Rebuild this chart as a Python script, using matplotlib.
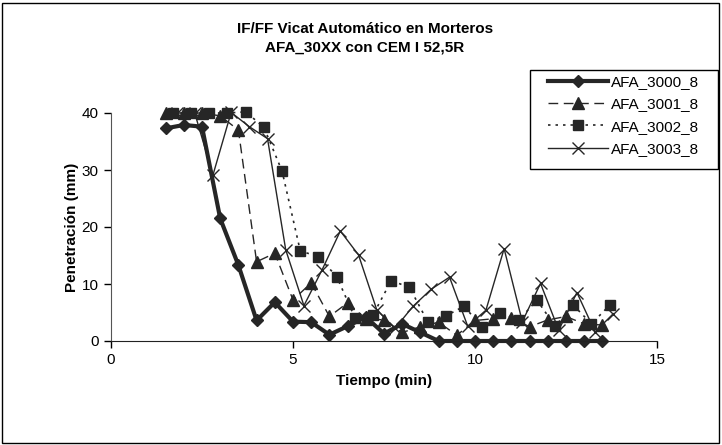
import matplotlib
matplotlib.use('Agg')
import matplotlib.pyplot as plt
from matplotlib.patches import Rectangle

plt.rcParams['font.family'] = ['Liberation Sans', 'DejaVu Sans']

# tiempo (min) y penetracion (mm) por serie
t_3000 = [1.5, 2.0, 2.5, 3.0, 3.5, 4.0, 4.5, 5.0, 5.5, 6.0, 6.5, 7.0, 7.5, 8.0, 8.5,
          9.0, 9.5, 10.0, 10.5, 11.0, 11.5, 12.0, 12.5, 13.0, 13.5]
p_3000 = [37.3, 37.9, 37.6, 21.5, 13.3, 3.6, 6.8, 3.4, 3.3, 1.1, 2.6, 4.2, 1.3, 3.0, 1.5,
          0, 0, 0, 0, 0, 0, 0, 0, 0, 0]

t_3001 = [1.5, 2.0, 2.5, 3.0, 3.5, 4.0, 4.5, 5.0, 5.5, 6.0, 6.5, 7.0, 7.5, 8.0, 8.5,
          9.0, 9.5, 10.0, 10.5, 11.0, 11.5, 12.0, 12.5, 13.0, 13.5]
p_3001 = [40, 40, 40, 39.5, 37.0, 13.9, 15.4, 7.2, 10.2, 4.3, 6.7, 3.9, 3.7, 1.5, 2.5,
          3.3, 1.0, 3.6, 3.9, 4.1, 2.5, 3.7, 4.3, 3.0, 2.8]

t_3002 = [1.7, 2.2, 2.7, 3.2, 3.7, 4.2, 4.7, 5.2, 5.7, 6.2, 6.7, 7.2, 7.7, 8.2, 8.7,
          9.2, 9.7, 10.2, 10.7, 11.2, 11.7, 12.2, 12.7, 13.2, 13.7]
p_3002 = [40, 40, 40, 40, 40.2, 37.5, 29.8, 15.8, 14.8, 11.3, 4.1, 4.6, 10.6, 9.4, 3.4,
          4.4, 6.1, 2.4, 5.0, 3.6, 7.2, 2.6, 6.3, 3.0, 6.3]

t_3003 = [1.8, 2.3, 2.8, 3.3, 3.8, 4.3, 4.8, 5.3, 5.8, 6.3, 6.8, 7.3, 7.8, 8.3, 8.8,
          9.3, 9.8, 10.3, 10.8, 11.3, 11.8, 12.3, 12.8, 13.3, 13.8]
p_3003 = [40, 40, 29.1, 40.1, 37.6, 35.5, 16.0, 6.2, 12.5, 19.3, 15.1, 5.5, 2.2, 6.1, 9.1,
          11.2, 2.6, 5.4, 16.2, 3.4, 10.1, 1.9, 8.5, 1.6, 4.8]

c = '#262626'

fig = plt.figure(figsize=(7.22, 4.45), dpi=100)
ax = fig.add_axes([111 / 722, 1 - 341 / 445, 546 / 722, 228 / 445])

ax.plot(t_3000, p_3000, color=c, lw=3, marker='D', ms=6, label='AFA_3000_8', clip_on=False)
ax.plot(t_3001, p_3001, color=c, lw=1, ls=(0, (7, 4)), marker='^', ms=8, label='AFA_3001_8', clip_on=False)
ax.plot(t_3002, p_3002, color=c, lw=1.2, ls=(0, (1.5, 3)), marker='s', ms=6.5, label='AFA_3002_8', clip_on=False)
ax.plot(t_3003, p_3003, color=c, lw=1, marker='x', ms=8, mew=1, label='AFA_3003_8', clip_on=False)

ax.set_xlim(0, 15)
ax.set_ylim(0, 40)
ax.set_xticks([0, 5, 10, 15])
ax.set_yticks([0, 10, 20, 30, 40])
ax.tick_params(direction='out', length=5, width=1, labelsize=11, pad=4)
for s in ['top', 'right']:
    ax.spines[s].set_visible(False)
ax.spines['left'].set_color('#555555')
ax.spines['bottom'].set_color('#222222')

ax.set_xlabel('Tiempo (min)', fontsize=11, fontweight='bold', va='center')
ax.set_ylabel('Penetración (mm)', fontsize=11, fontweight='bold', va='center')
ax.xaxis.set_label_coords(0.5, -(381 - 341) / 228)
ax.yaxis.set_label_coords((72 - 111) / 546, 0.5)

fig.text(365 / 722, 1 - 29 / 445, 'IF/FF Vicat Automático en Morteros', ha='center', va='center',
         fontsize=11, fontweight='bold')
fig.text(365 / 722, 1 - 48 / 445, 'AFA_30XX con CEM I 52,5R', ha='center', va='center',
         fontsize=11, fontweight='bold')

leg = ax.legend(loc='upper left', bbox_to_anchor=(548 / 722, 1 - 75 / 445), bbox_transform=fig.transFigure,
                frameon=False, fontsize=11, handlelength=3.9, borderpad=0, borderaxespad=0,
                labelspacing=0.55, handletextpad=0.2)

# caja de la leyenda y marco exterior
fig.patches.append(Rectangle((530 / 722, 1 - 169 / 445), 188 / 722, 99 / 445, transform=fig.transFigure,
                             fill=False, edgecolor='black', lw=1))
fig.patches.append(Rectangle((2 / 722, 2 / 445), 717 / 722, 440 / 445, transform=fig.transFigure,
                             fill=False, edgecolor='black', lw=1))

fig.savefig('out.png', dpi=100)
